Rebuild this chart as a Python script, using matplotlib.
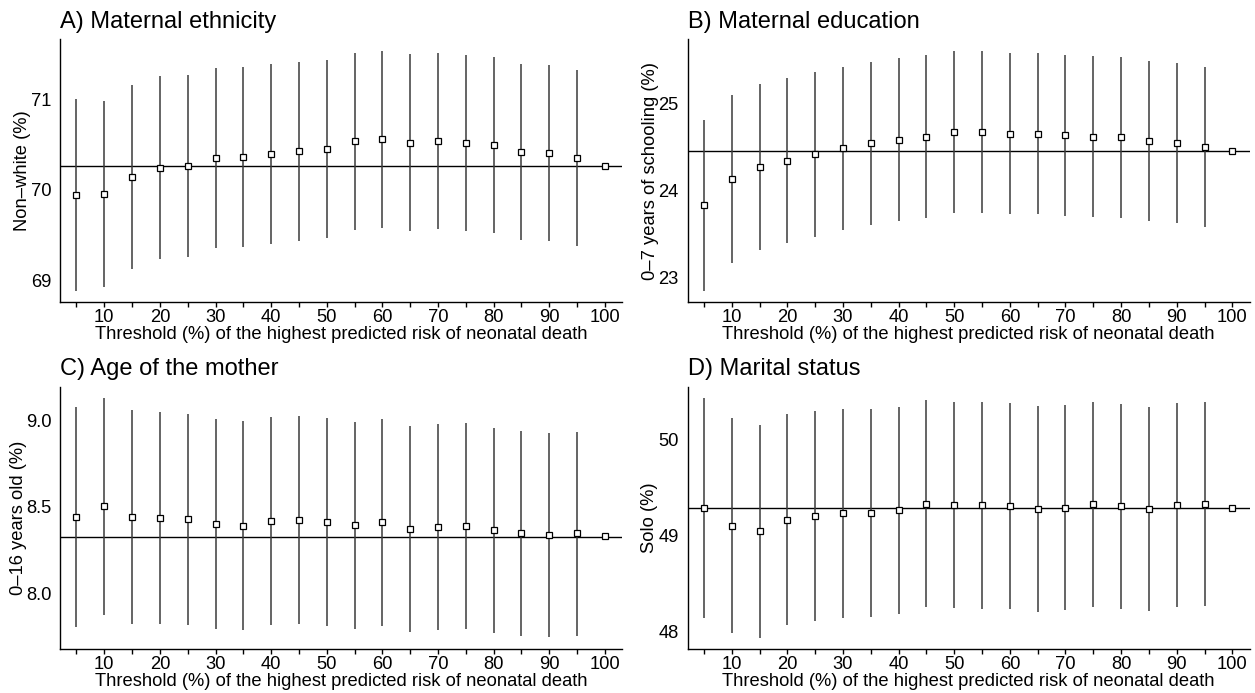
import matplotlib
matplotlib.use("Agg")
import matplotlib.pyplot as plt
import numpy as np

plt.rcParams['font.family'] = ['Liberation Sans', 'DejaVu Sans']

thresholds = [5, 10, 15, 20, 25, 30, 35, 40, 45, 50, 55, 60, 65, 70, 75, 80, 85, 90, 95, 100]
tick_labels = ['', '10', '', '20', '', '30', '', '40', '', '50', '', '60', '', '70', '', '80', '', '90', '', '100']

# A) Maternal ethnicity
eth_est = [69.945, 69.960, 70.148, 70.244, 70.266, 70.358, 70.369, 70.402, 70.432, 70.458,
           70.539, 70.561, 70.524, 70.546, 70.524, 70.498, 70.421, 70.413, 70.358, 70.266]
eth_lo = [68.886, 68.930, 69.129, 69.240, 69.262, 69.358, 69.373, 69.406, 69.439, 69.465,
          69.553, 69.576, 69.542, 69.565, 69.546, 69.520, 69.443, 69.439, 69.380, 70.266]
eth_hi = [71.004, 70.989, 71.166, 71.258, 71.269, 71.354, 71.362, 71.391, 71.417, 71.439,
          71.520, 71.539, 71.506, 71.520, 71.494, 71.472, 71.395, 71.384, 71.328, 70.266]
eth_ref = 70.266

# B) Maternal education
edu_est = [23.839, 24.138, 24.280, 24.349, 24.421, 24.490, 24.548, 24.590, 24.625, 24.678,
           24.678, 24.659, 24.659, 24.644, 24.625, 24.617, 24.575, 24.548, 24.510, 24.464]
edu_lo = [22.854, 23.176, 23.326, 23.402, 23.475, 23.548, 23.613, 23.659, 23.690, 23.751,
          23.751, 23.736, 23.736, 23.716, 23.701, 23.693, 23.659, 23.632, 23.590, 24.464]
edu_hi = [24.816, 25.103, 25.230, 25.299, 25.368, 25.425, 25.487, 25.525, 25.559, 25.609,
          25.605, 25.590, 25.590, 25.567, 25.548, 25.540, 25.494, 25.467, 25.425, 24.464]
edu_ref = 24.464

# C) Age of the mother
age_est = [8.440, 8.504, 8.442, 8.434, 8.427, 8.400, 8.390, 8.417, 8.421, 8.413,
           8.392, 8.409, 8.373, 8.382, 8.390, 8.365, 8.346, 8.334, 8.346, 8.330]
age_lo = [7.801, 7.875, 7.820, 7.819, 7.815, 7.793, 7.784, 7.813, 7.819, 7.811,
          7.793, 7.811, 7.776, 7.788, 7.793, 7.770, 7.753, 7.743, 7.753, 8.330]
age_hi = [9.079, 9.131, 9.060, 9.048, 9.037, 9.008, 8.996, 9.021, 9.023, 9.014,
          8.990, 9.008, 8.967, 8.977, 8.985, 8.958, 8.936, 8.925, 8.932, 8.330]
age_ref = 8.327

# D) Marital status
mar_est = [49.288, 49.100, 49.042, 49.163, 49.205, 49.233, 49.233, 49.260, 49.330, 49.316,
           49.313, 49.306, 49.274, 49.288, 49.330, 49.302, 49.278, 49.319, 49.330, 49.285]
mar_lo = [48.142, 47.979, 47.934, 48.063, 48.108, 48.142, 48.146, 48.181, 48.253, 48.240,
          48.236, 48.233, 48.205, 48.222, 48.257, 48.236, 48.215, 48.253, 48.264, 49.285]
mar_hi = [50.434, 50.219, 50.149, 50.264, 50.295, 50.316, 50.316, 50.340, 50.406, 50.389,
          50.385, 50.375, 50.344, 50.358, 50.392, 50.365, 50.340, 50.378, 50.389, 49.285]
mar_ref = 49.281

W, H = 1255, 693
fig = plt.figure(figsize=(W / 100, H / 100), dpi=100)

panels = [
    dict(title='A) Maternal ethnicity', ylabel='Non\u2013white (%)', est=eth_est, lo=eth_lo, hi=eth_hi,
         ref=eth_ref, yticks=[69, 70, 71], yfmt='{:.0f}', ylim=(68.756, 71.668),
         box=(60.2, 622.0, 39.3, 302.3), yl_off=29.6),
    dict(title='B) Maternal education', ylabel='0\u20137 years of schooling (%)', est=edu_est, lo=edu_lo,
         hi=edu_hi, ref=edu_ref, yticks=[23, 24, 25], yfmt='{:.0f}', ylim=(22.72, 25.743),
         box=(687.7, 1249.5, 39.3, 302.3), yl_off=28.4),
    dict(title='C) Age of the mother', ylabel='0\u201316 years old (%)', est=age_est, lo=age_lo, hi=age_hi,
         ref=age_ref, yticks=[8.0, 8.5, 9.0], yfmt='{:.1f}', ylim=(7.674, 9.195),
         box=(60.2, 622.0, 386.7, 649.3), yl_off=33.5),
    dict(title='D) Marital status', ylabel='Solo (%)', est=mar_est, lo=mar_lo, hi=mar_hi,
         ref=mar_ref, yticks=[48, 49, 50], yfmt='{:.0f}', ylim=(47.8125, 50.549),
         box=(687.7, 1249.5, 386.7, 649.3), yl_off=30.0),
]

base_fs = 13.2
for p in panels:
    l, r, t, b = p['box']
    ax = fig.add_axes([l / W, 1 - b / H, (r - l) / W, (b - t) / H])
    x = np.array(thresholds)
    ax.vlines(x, p['lo'], p['hi'], color='#3a3a3a', lw=1.1, zorder=2)
    ax.axhline(p['ref'], color='black', lw=1.0, zorder=1)
    ax.plot(x, p['est'], ls='none', marker='s', ms=4.2, mfc='white', mec='black', mew=0.9, zorder=3)
    ax.set_xlim(2.08, 103.08)
    ax.set_ylim(*p['ylim'])
    ax.set_xticks(thresholds)
    ax.set_xticklabels(tick_labels)
    ax.set_yticks(p['yticks'])
    ax.set_yticklabels([p['yfmt'].format(v) for v in p['yticks']])
    for s in ['top', 'right']:
        ax.spines[s].set_visible(False)
    for s in ['left', 'bottom']:
        ax.spines[s].set_linewidth(1.0)
    ax.tick_params(axis='x', direction='out', length=3.3, width=1.0, pad=1.8, labelsize=base_fs)
    ax.tick_params(axis='y', length=0, pad=6.5, labelsize=base_fs)
    ax.set_xlabel('Threshold (%) of the highest predicted risk of neonatal death', fontsize=base_fs, labelpad=0)
    ax.set_ylabel(p['ylabel'], fontsize=base_fs)
    ax.yaxis.set_label_coords(-p['yl_off'] / (r - l), 0.5)
    ax.set_title(p['title'], loc='left', fontsize=17, pad=8.2)

fig.savefig('out.png', dpi=100)
